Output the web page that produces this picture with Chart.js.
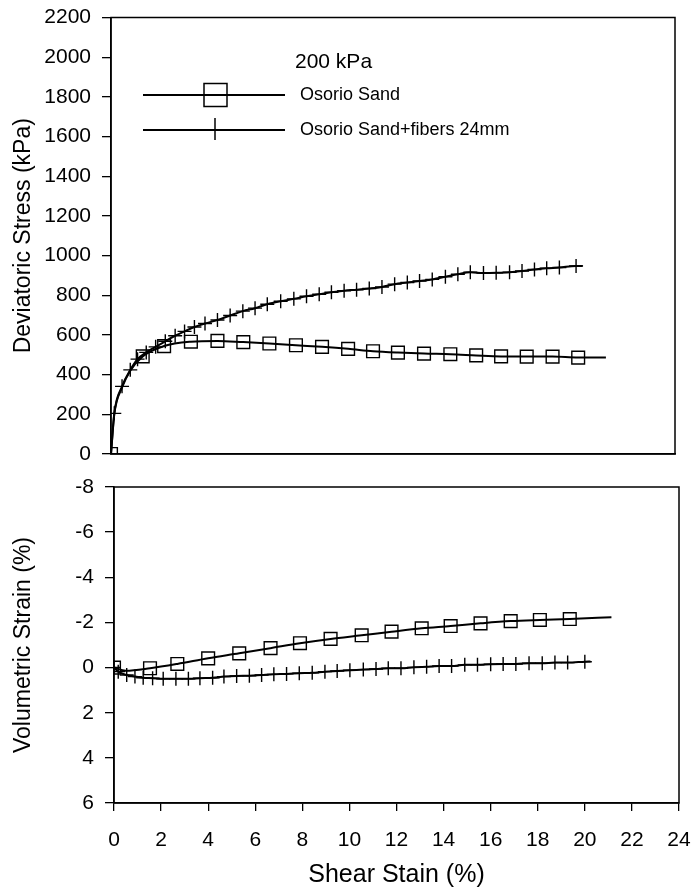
<!DOCTYPE html>
<html><head><meta charset="utf-8">
<script src="https://cdn.jsdelivr.net/npm/chart.js@4.4.1/dist/chart.umd.min.js"></script>
<style>
html,body{margin:0;padding:0;background:#fff;}
#wrap{position:relative;width:694px;height:891px;overflow:hidden;}
#c1{position:absolute;left:0;top:0;}
#c2{position:absolute;left:0;top:470px;}
</style></head><body>
<div id="wrap">
<canvas id="c1" width="694" height="470"></canvas>
<canvas id="c2" width="694" height="421"></canvas>
</div>
<script>
// ---------- data ----------
const legendTitle = "200 kPa";
const seriesNames = ["Osorio Sand", "Osorio Sand+fibers 24mm"];
const xAxisTitle = "Shear Stain (%)";
const yTopTitle = "Deviatoric Stress (kPa)";
const yBottomTitle = "Volumetric Strain (%)";

// Deviatoric stress - Osorio Sand (marked points)
const sandStrainTop = [0, 1.35, 2.26, 3.40, 4.53, 5.63, 6.74, 7.87, 8.98, 10.09, 11.15, 12.21, 13.32, 14.44, 15.54, 16.60, 17.69, 18.79, 19.88];
const sandStressTop = [0, 492, 544, 566, 570, 564, 557, 548, 540, 530, 518, 511, 506, 503, 497, 492, 491, 491, 486];
// unmarked points along the Osorio Sand curve
const sandStrainTopExtra = [0.14, 0.47, 0.82, 21.06];
const sandStressTopExtra = [200, 335, 420, 486];

// Deviatoric stress - Osorio Sand + fibers (marked points)
const fibStrainTop = [0, 0.14, 0.47, 0.82, 1.13, 1.50, 1.90, 2.31, 2.73, 3.13, 3.55, 4.00, 4.53, 5.07, 5.61, 6.13, 6.65, 7.22, 7.78, 8.32, 8.86, 9.38, 9.92, 10.45, 10.99, 11.53, 12.07, 12.61, 13.13, 13.67, 14.23, 14.76, 15.29, 15.85, 16.39, 16.96, 17.49, 18.02, 18.54, 19.08, 19.79];
const fibStressTop = [0, 205, 341, 424, 478, 512, 540, 568, 596, 618, 640, 658, 675, 698, 720, 735, 755, 770, 782, 795, 805, 815, 823, 828, 834, 842, 856, 864, 872, 880, 893, 906, 916, 912, 913, 916, 922, 930, 936, 940, 948];
const fibStrainTopExtra = [20.07];
const fibStressTopExtra = [948];

// Volumetric strain - Osorio Sand (marked points)
const sandStrainBot = [0, 1.53, 2.69, 4.00, 5.32, 6.65, 7.90, 9.20, 10.52, 11.79, 13.07, 14.30, 15.57, 16.85, 18.09, 19.36];
const sandVolBot = [0, 0.03, -0.16, -0.41, -0.63, -0.86, -1.08, -1.27, -1.43, -1.59, -1.74, -1.84, -1.96, -2.06, -2.11, -2.15];
const sandStrainBotExtra = [0.5, 21.13];
const sandVolBotExtra = [0.14, -2.23];

// Volumetric strain - Osorio Sand + fibers (marked points)
const fibStrainBot = [0, 0.18, 0.54, 0.89, 1.24, 1.64, 2.09, 2.63, 3.16, 3.65, 4.19, 4.67, 5.21, 5.75, 6.27, 6.79, 7.33, 7.87, 8.42, 8.96, 9.48, 10.02, 10.59, 11.13, 11.65, 12.19, 12.74, 13.28, 13.81, 14.34, 14.90, 15.44, 16.00, 16.53, 17.07, 17.63, 18.19, 18.73, 19.27, 20.00];
const fibVolBot = [0, 0.18, 0.33, 0.40, 0.45, 0.47, 0.50, 0.50, 0.50, 0.47, 0.45, 0.40, 0.37, 0.36, 0.33, 0.30, 0.28, 0.25, 0.23, 0.18, 0.15, 0.12, 0.09, 0.06, 0.03, 0.03, -0.01, -0.04, -0.07, -0.07, -0.12, -0.12, -0.15, -0.16, -0.16, -0.19, -0.19, -0.22, -0.22, -0.26];
const fibStrainBotExtra = [20.24];
const fibVolBotExtra = [-0.27];

// axis ranges / ticks
const strainMin = 0, strainMax = 24, strainStep = 2;
const stressMin = 0, stressMax = 2200, stressStep = 200;
const volMin = -8, volMax = 6, volStep = 2;

// ---------- helpers ----------
function pts(xs, ys){ return xs.map((x,i)=>({x:x, y:ys[i]})); }
function merged(xs, ys, xe, ye){ return pts(xs,ys).concat(pts(xe,ye)).sort((a,b)=>a.x-b.x); }

const FONT = '"Liberation Sans", Arial, Helvetica, sans-serif';
const BLACK = '#000';

function curveDs(data){
  return {data, showLine:true, borderColor:BLACK, borderWidth:2, pointRadius:0,
          cubicInterpolationMode:'monotone', fill:false};
}
function markerDs(data, style, r){
  return {data, showLine:false, pointStyle:style, pointRadius:r, pointHoverRadius:r,
          pointBorderColor:BLACK, pointBackgroundColor:'rgba(0,0,0,0)', pointBorderWidth:1.4,
          borderColor:BLACK, backgroundColor:'rgba(0,0,0,0)'};
}
const plainNum = v => String(v);
function fitY(width){ return s => { s.width = width; s.paddingTop = 0; s.paddingBottom = 0; }; }
function fitX(height){ return s => { s.height = height; s.paddingLeft = 0; s.paddingRight = 0; }; }

const framePlugin = {
  id:'frame',
  afterDraw(chart){
    const a = chart.chartArea, ctx = chart.ctx;
    ctx.save(); ctx.strokeStyle = BLACK; ctx.lineWidth = 1.5;
    ctx.strokeRect(a.left, a.top, a.right-a.left, a.bottom-a.top);
    ctx.restore();
  }
};

const legendPlugin = {
  id:'customLegend',
  afterDraw(chart){
    const ctx = chart.ctx;
    ctx.save();
    ctx.fillStyle = BLACK; ctx.strokeStyle = BLACK;
    ctx.textBaseline = 'middle'; ctx.textAlign = 'left';
    ctx.font = '21px ' + FONT;
    ctx.fillText(legendTitle, 295, 62);
    ctx.font = '18px ' + FONT;
    const rowsY = [95, 130];
    rowsY.forEach((y,i)=>{
      ctx.lineWidth = 2;
      ctx.beginPath(); ctx.moveTo(143, y); ctx.lineTo(285, y); ctx.stroke();
      ctx.lineWidth = 1.5;
      if (i === 0) {
        ctx.strokeRect(204, y-11.5, 23, 23);
      } else {
        ctx.beginPath(); ctx.moveTo(215, y-12); ctx.lineTo(215, y+10); ctx.stroke();
      }
      ctx.fillText(seriesNames[i], 300, y);
    });
    ctx.restore();
  }
};

const tickFont = {family: FONT, size: 21};
const titleFont = {family: FONT, size: 23};

// ---------- top chart ----------
new Chart(document.getElementById('c1'), {
  type:'scatter',
  data:{datasets:[
    curveDs(merged(sandStrainTop, sandStressTop, sandStrainTopExtra, sandStressTopExtra)),
    curveDs(merged(fibStrainTop, fibStressTop, fibStrainTopExtra, fibStressTopExtra)),
    markerDs(pts(sandStrainTop, sandStressTop), 'rect', 9),
    markerDs(pts(fibStrainTop, fibStressTop), 'cross', 7)
  ]},
  options:{
    responsive:false, animation:false, devicePixelRatio:1,
    layout:{padding:{top:17.5, right:19, bottom:0, left:0}},
    plugins:{legend:{display:false}, tooltip:{enabled:false}},
    scales:{
      x:{type:'linear', min:strainMin, max:strainMax,
         ticks:{display:false, stepSize:strainStep},
         grid:{display:false, drawTicks:false},
         border:{display:true, color:BLACK, width:1.5},
         afterFit: fitX(16)},
      y:{type:'linear', min:stressMin, max:stressMax,
         ticks:{stepSize:stressStep, color:BLACK, font:tickFont, padding:11, callback:plainNum},
         grid:{display:true, drawOnChartArea:false, drawTicks:true, tickLength:9, color:BLACK, lineWidth:1.3},
         border:{display:true, color:BLACK, width:1.5},
         title:{display:true, text:yTopTitle, color:BLACK, font:titleFont, padding:{top:10, bottom:0}},
         afterFit: fitY(111)}
    }
  },
  plugins:[framePlugin, legendPlugin]
});

// ---------- bottom chart ----------
new Chart(document.getElementById('c2'), {
  type:'scatter',
  data:{datasets:[
    curveDs(merged(sandStrainBot, sandVolBot, sandStrainBotExtra, sandVolBotExtra)),
    curveDs(merged(fibStrainBot, fibVolBot, fibStrainBotExtra, fibVolBotExtra)),
    markerDs(pts(sandStrainBot, sandVolBot), 'rect', 9),
    markerDs(pts(fibStrainBot, fibVolBot), 'cross', 7)
  ]},
  options:{
    responsive:false, animation:false, devicePixelRatio:1,
    layout:{padding:{top:17, right:15, bottom:0, left:0}},
    plugins:{legend:{display:false}, tooltip:{enabled:false}},
    scales:{
      x:{type:'linear', min:strainMin, max:strainMax,
         ticks:{stepSize:strainStep, color:BLACK, font:tickFont, padding:17, maxRotation:0, callback:plainNum},
         grid:{display:true, drawOnChartArea:false, drawTicks:true, tickLength:8, color:BLACK, lineWidth:1.3},
         border:{display:true, color:BLACK, width:1.5},
         title:{display:true, text:xAxisTitle, color:BLACK, font:{family:FONT, size:25}, padding:{top:0, bottom:1}},
         afterFit: fitX(88)},
      y:{type:'linear', min:volMin, max:volMax, reverse:true,
         ticks:{stepSize:volStep, color:BLACK, font:tickFont, padding:11, callback:plainNum},
         grid:{display:true, drawOnChartArea:false, drawTicks:true, tickLength:9, color:BLACK, lineWidth:1.3},
         border:{display:true, color:BLACK, width:1.5},
         title:{display:true, text:yBottomTitle, color:BLACK, font:titleFont, padding:{top:10, bottom:0}},
         afterFit: fitY(114)}
    }
  },
  plugins:[framePlugin]
});
</script>
</body></html>
